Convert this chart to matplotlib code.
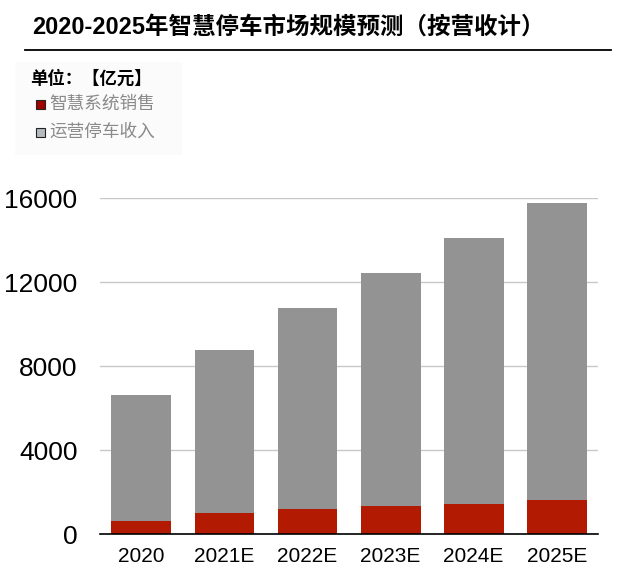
import matplotlib.pyplot as plt
from matplotlib.patches import Rectangle
import numpy as np

# 数据（亿元）
years = ['2020', '2021E', '2022E', '2023E', '2024E', '2025E']
xitong = [620, 1000, 1190, 1330, 1430, 1620]          # 智慧系统销售
yunying = [6000, 7760, 9570, 11100, 12670, 14140]     # 运营停车收入
yticks = [0, 4000, 8000, 12000, 16000]

red = '#B31A02'
gray = '#939393'
cjk = ['Liberation Sans', 'Noto Sans CJK SC']

fig = plt.figure(figsize=(6.2, 5.8), dpi=100)
ax = fig.add_axes([0.161, 0.0793, 0.804, 0.5793])

x = np.arange(len(years))
ax.bar(x, xitong, width=0.72, color=red, zorder=3)
ax.bar(x, yunying, width=0.72, bottom=xitong, color=gray, zorder=3)

ax.set_xlim(-0.5, 5.5)
ax.set_ylim(0, 16000)
ax.set_yticks(yticks)
ax.set_yticklabels([str(v) for v in yticks], family='Liberation Sans', fontsize=19)
ax.set_xticks(x)
ax.set_xticklabels(years, family='Liberation Sans', fontsize=15)
ax.tick_params(axis='y', length=0, pad=16)
ax.tick_params(axis='x', length=0, pad=9)
ax.grid(axis='y', color='#c8c8c8', linewidth=1, zorder=0)
for s in ['top', 'right', 'left']:
    ax.spines[s].set_visible(False)
ax.spines['bottom'].set_linewidth(1.2)
ax.spines['bottom'].set_zorder(4)

# 标题和横线
fig.text(32 / 620, 1 - 27 / 580, '2020-2025年智慧停车市场规模预测（按营收计）',
         family=cjk, fontsize=16.9, fontweight='bold', va='center', ha='left')
fig.add_artist(plt.Line2D([25 / 620, 611 / 620], [1 - 50 / 580, 1 - 50 / 580],
                          color='black', linewidth=1.3))

# 图例区
fig.add_artist(Rectangle((15 / 620, 1 - 155 / 580), 167 / 620, 93 / 580,
                         transform=fig.transFigure, facecolor='#fbfbfb',
                         edgecolor='none', zorder=0))
fig.text(30 / 620, 1 - 78 / 580, '单位：【亿元】', family=cjk, fontsize=12.5,
         fontweight='bold', va='center', ha='left')
for i, (lab, col) in enumerate([('智慧系统销售', '#A00000'), ('运营停车收入', '#B5BABE')]):
    yc = 104 + i * 28
    fig.add_artist(Rectangle((36 / 620, 1 - (yc + 4.5) / 580), 9 / 620, 9 / 580,
                             transform=fig.transFigure, facecolor=col,
                             edgecolor='#222222', linewidth=0.8))
    fig.text(49 / 620, 1 - yc / 580, lab, family=cjk, fontsize=12.7,
             color='#8a8a8a', va='center', ha='left')

plt.savefig('out.png', dpi=100)
